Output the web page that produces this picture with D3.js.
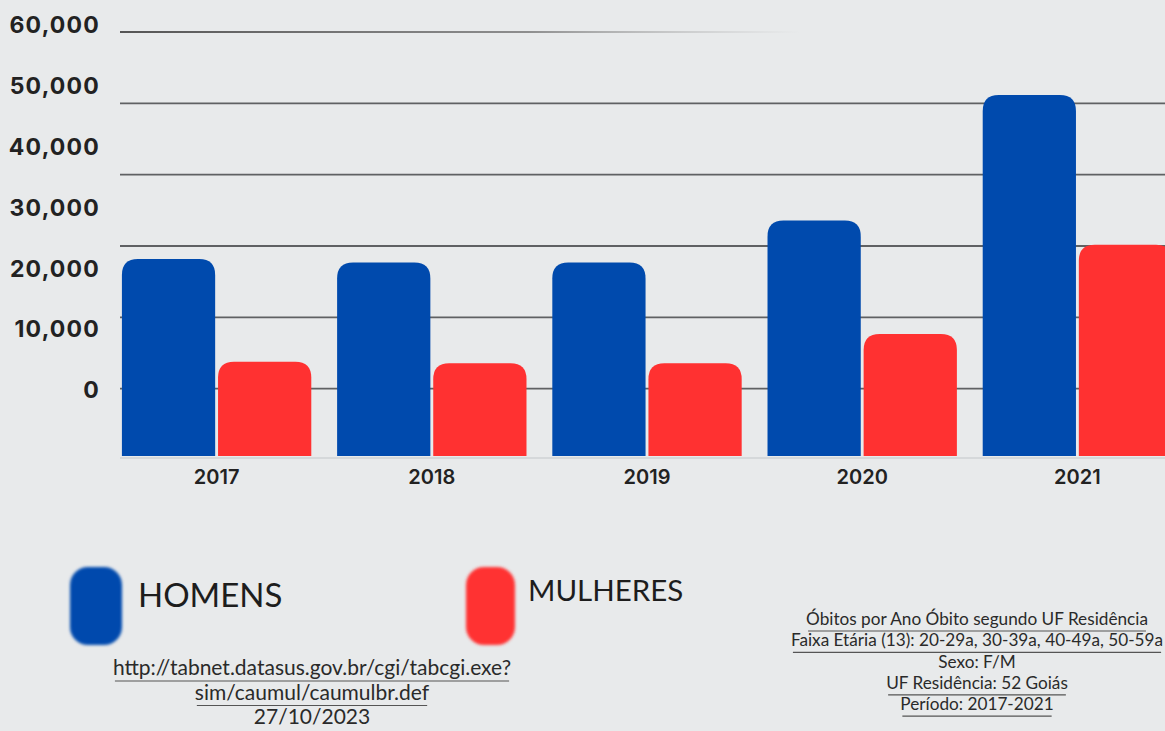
<!DOCTYPE html>
<html>
<head>
<meta charset="utf-8">
<script src="https://cdn.jsdelivr.net/npm/d3@7"></script>
<style>
  html, body { margin: 0; padding: 0; background: #e8eaeb; }
  svg { display: block; }
</style>
</head>
<body>
<svg id="chart" width="1165" height="731"></svg>
<script>
// data
const years = ["2017", "2018", "2019", "2020", "2021"];
const homens = [27900, 27400, 27400, 33300, 50900];
const mulheres = [13500, 13300, 13300, 17400, 29900];
const seriesNames = ["HOMENS", "MULHERES"];
const seriesColors = ["#004aad", "#ff3131"];
const yTicks = [0, 10000, 20000, 30000, 40000, 50000, 60000];
const sourceLines = ["http://tabnet.datasus.gov.br/cgi/tabcgi.exe?", "sim/caumul/caumulbr.def", "27/10/2023"];
const noteLines = [
  "Óbitos por Ano Óbito segundo UF Residência",
  "Faixa Etária (13): 20-29a, 30-39a, 40-49a, 50-59a",
  "Sexo: F/M",
  "UF Residência: 52 Goiás",
  "Período: 2017-2021"
];

const svg = d3.select("#chart");

const x0 = d3.scaleBand().domain(years).range([109, 1185]).paddingInner(0.12).paddingOuter(0.06);
const x1 = d3.scaleBand().domain(seriesNames).range([0, x0.bandwidth()]).paddingInner(0.03);
const y = d3.scaleLinear().domain([0, 60000]).range([458, 30]);
// the tick labels in the original sit on their own spacing, not on the gridlines
const yLab = d3.scaleLinear().domain([0, 60000]).range([390, 25]);

const defs = svg.append("defs");
const fade = defs.append("linearGradient").attr("id", "fade")
  .attr("gradientUnits", "userSpaceOnUse")
  .attr("x1", 120).attr("x2", 800).attr("y1", 0).attr("y2", 0);
fade.append("stop").attr("offset", "0").attr("stop-color", "#555").attr("stop-opacity", 1);
fade.append("stop").attr("offset", "0.6").attr("stop-color", "#777").attr("stop-opacity", 0.8);
fade.append("stop").attr("offset", "1").attr("stop-color", "#aaa").attr("stop-opacity", 0);
defs.append("filter").attr("id", "soft")
  .append("feGaussianBlur").attr("stdDeviation", 1.4);

// gridlines
svg.append("g").selectAll("line")
  .data(yTicks.filter(d => d > 0))
  .enter().append("line")
  .attr("x1", 120).attr("x2", d => d === 60000 ? 800 : 1165)
  .attr("y1", d => y(d) + 2).attr("y2", d => y(d) + 2)
  .attr("stroke", d => d === 60000 ? "url(#fade)" : "#5f6163")
  .attr("stroke-width", 1.8);

// baseline
svg.append("line")
  .attr("x1", 120).attr("x2", 1165)
  .attr("y1", y(0)).attr("y2", y(0))
  .attr("stroke", "#cfd2d4").attr("stroke-width", 1.5);

// y labels
svg.append("g").selectAll("text")
  .data(yTicks)
  .enter().append("text")
  .attr("x", 100).attr("y", d => yLab(d))
  .attr("dy", "0.36em")
  .attr("text-anchor", "end")
  .style("font-family", "Inter, Lato, sans-serif")
  .style("font-weight", 700)
  .style("font-size", "23px")
  .style("letter-spacing", "1.2px")
  .attr("fill", "#222")
  .text(d => d3.format(",")(d));

// bars, rounded on top only
function topRounded(x, yTop, w, yBase, r) {
  r = Math.min(r, w / 2, yBase - yTop);
  return `M${x},${yBase} V${yTop + r} Q${x},${yTop} ${x + r},${yTop} H${x + w - r} Q${x + w},${yTop} ${x + w},${yTop + r} V${yBase} Z`;
}

const rows = years.map((yr, i) => ({ year: yr, values: [homens[i], mulheres[i]] }));

const groups = svg.append("g").selectAll(".year-group")
  .data(rows)
  .enter().append("g")
  .attr("class", "year-group")
  .attr("transform", d => `translate(${x0(d.year)},0)`);

groups.selectAll("path")
  .data(d => d.values.map((v, j) => ({ name: seriesNames[j], value: v, color: seriesColors[j] })))
  .enter().append("path")
  .attr("d", d => topRounded(x1(d.name), y(d.value), x1.bandwidth(), y(0) - 2, 16))
  .attr("fill", d => d.color);

// x labels
svg.append("g").selectAll("text")
  .data(years)
  .enter().append("text")
  .attr("x", d => x0(d) + x0.bandwidth() / 2)
  .attr("y", 484)
  .attr("text-anchor", "middle")
  .style("font-family", "Inter, Lato, sans-serif")
  .style("font-weight", 600)
  .style("font-size", "20px")
  .attr("fill", "#222")
  .text(d => d);

// legend
const legendX = [70, 466];
const legend = svg.append("g").selectAll(".legend-item")
  .data(seriesNames)
  .enter().append("g")
  .attr("class", "legend-item")
  .attr("transform", (d, i) => `translate(${legendX[i]},567)`);

legend.append("rect")
  .attr("width", (d, i) => i === 0 ? 52 : 49)
  .attr("height", 78)
  .attr("rx", 18)
  .attr("fill", (d, i) => seriesColors[i])
  .attr("filter", "url(#soft)");

legend.append("text")
  .attr("x", (d, i) => i === 0 ? 68 : 62)
  .attr("y", (d, i) => i === 0 ? 40 : 34)
  .style("font-family", "Lato, sans-serif")
  .style("font-size", (d, i) => i === 0 ? "33px" : "29.5px")
  .attr("fill", "#1d1d1d")
  .text(d => d);

// text blocks with underline strokes
function textBlock(lines, cx, y0, step, size, underline) {
  const g = svg.append("g");
  const t = g.selectAll("text")
    .data(lines)
    .enter().append("text")
    .attr("x", cx)
    .attr("y", (d, i) => y0 + i * step)
    .attr("text-anchor", "middle")
    .style("font-family", "Lato, sans-serif")
    .style("font-size", size + "px")
    .attr("fill", "#2a2a2a")
    .text(d => d);
  t.each(function (d, i) {
    if (!underline[i]) return;
    const w = this.getComputedTextLength();
    g.append("line")
      .attr("x1", cx - w / 2 + 2).attr("x2", cx + w / 2 - 2)
      .attr("y1", y0 + i * step + 6).attr("y2", y0 + i * step + 6)
      .attr("stroke", "#555").attr("stroke-width", 1.2);
  });
}

textBlock(sourceLines, 312, 675, 24.5, 21, [true, true, false]);
textBlock(noteLines, 977, 625, 21.3, 17.2, [true, true, false, true, true]);
</script>
</body>
</html>
